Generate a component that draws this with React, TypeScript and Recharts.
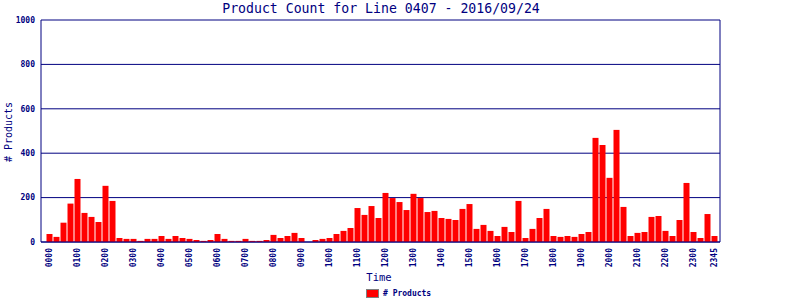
import React from 'react';
import { BarChart, Bar, XAxis, YAxis, CartesianGrid, Legend } from 'recharts';

const NAVY = '#000080';
const BAR_RED = '#ff0000';
const MONO = '"DejaVu Sans Mono", "Liberation Mono", monospace';

const HOURS = [
  '00', '01', '02', '03', '04', '05', '06', '07', '08', '09', '10', '11',
  '12', '13', '14', '15', '16', '17', '18', '19', '20', '21', '22', '23',
];
const QUARTERS = ['00', '15', '30', '45'];
const times = HOURS.flatMap((h) => QUARTERS.map((q) => h + q));

// one value per quarter hour
const productCounts = [
  36, 23, 87, 173, 284, 131, 113, 90,
  253, 185, 18, 14, 14, 5, 14, 14,
  27, 14, 27, 18, 14, 9, 5, 9,
  36, 14, 5, 5, 14, 5, 5, 9,
  32, 18, 27, 41, 18, 0, 9, 14,
  18, 36, 50, 63, 153, 122, 162, 108,
  221, 198, 180, 144, 217, 198, 135, 140,
  108, 104, 99, 149, 171, 59, 77, 50,
  27, 68, 45, 185, 18, 59, 108, 149,
  27, 23, 27, 23, 36, 45, 469, 437,
  289, 505, 158, 27, 41, 45, 113, 117,
  50, 27, 99, 266, 45, 18, 126, 27,
];

const tickLabels = [
  '0000', '0100', '0200', '0300', '0400', '0500', '0600', '0700',
  '0800', '0900', '1000', '1100', '1200', '1300', '1400', '1500',
  '1600', '1700', '1800', '1900', '2000', '2100', '2200', '2300', '2345',
];
const yTicks = [0, 200, 400, 600, 800, 1000];

const data = times.map((time, i) => ({ time, products: productCounts[i] }));

const TimeTick = (props: any) => {
  const { x, y, payload } = props;
  if (!tickLabels.includes(payload.value)) return null;
  return (
    <text
      transform={`translate(${x},${y + 6}) rotate(-90)`}
      textAnchor="end"
      dy="0.35em"
      fill={NAVY}
      fontFamily={MONO}
      fontWeight="bold"
      fontSize={8}
    >
      {payload.value}
    </text>
  );
};

const CountTick = (props: any) => {
  const { x, y, payload } = props;
  return (
    <text
      x={x - 4}
      y={y}
      dy="0.35em"
      textAnchor="end"
      fill={NAVY}
      fontFamily={MONO}
      fontWeight="bold"
      fontSize={8}
    >
      {payload.value}
    </text>
  );
};

const ProductsLegend = () => (
  <div style={{ display: 'flex', alignItems: 'center', fontFamily: MONO, fontSize: 8, fontWeight: 'bold', color: NAVY }}>
    <span style={{ display: 'inline-block', width: 11, height: 7, background: BAR_RED, border: '1px solid #808080', marginRight: 4 }} />
    <span># Products</span>
  </div>
);

export default function App() {
  return (
    <div style={{ position: 'absolute', left: 0, top: 0, width: 800, height: 300, background: '#fff' }}>
      <div
        style={{
          position: 'absolute', left: 0, top: 2, width: 762, textAlign: 'center',
          fontFamily: MONO, fontSize: 13.2, lineHeight: '13px', color: NAVY,
        }}
      >
        Product Count for Line 0407 - 2016/09/24
      </div>
      <BarChart width={800} height={300} data={data} margin={{ top: 20, right: 0, bottom: 0, left: 0 }} barSize={6}>
        <CartesianGrid vertical={false} stroke={NAVY} strokeWidth={1} />
        <XAxis
          dataKey="time"
          height={58}
          interval={0}
          tickSize={0}
          tickMargin={0}
          tickLine={false}
          axisLine={{ stroke: NAVY }}
          padding={{ left: 4.5, right: 2.5 }}
          tick={<TimeTick />}
          label={(p: any) => (
            <text x={379} y={281} textAnchor="middle" fill={NAVY} fontFamily={MONO} fontSize={10.5}>
              Time
            </text>
          )}
        />
        <YAxis
          width={41}
          domain={[0, 1000]}
          ticks={yTicks}
          tickLine={false}
          tickSize={0}
          axisLine={{ stroke: NAVY }}
          tick={<CountTick />}
          label={(p: any) => (
            <text
              transform="translate(11.5,132) rotate(-90)"
              textAnchor="middle"
              fill={NAVY}
              fontFamily={MONO}
              fontSize={10}
            >
              # Products
            </text>
          )}
        />
        <YAxis yAxisId="frame" orientation="right" width={80} domain={[0, 1000]} tick={false} tickLine={false} axisLine={{ stroke: NAVY }} />
        <Legend
          layout="horizontal"
          verticalAlign="middle"
          align="center"
          wrapperStyle={{ top: 289, left: 366, width: 'auto', height: 'auto' }}
          content={<ProductsLegend />}
        />
        <Bar dataKey="products" name="# Products" fill={BAR_RED} isAnimationActive={false} />
      </BarChart>
    </div>
  );
}
